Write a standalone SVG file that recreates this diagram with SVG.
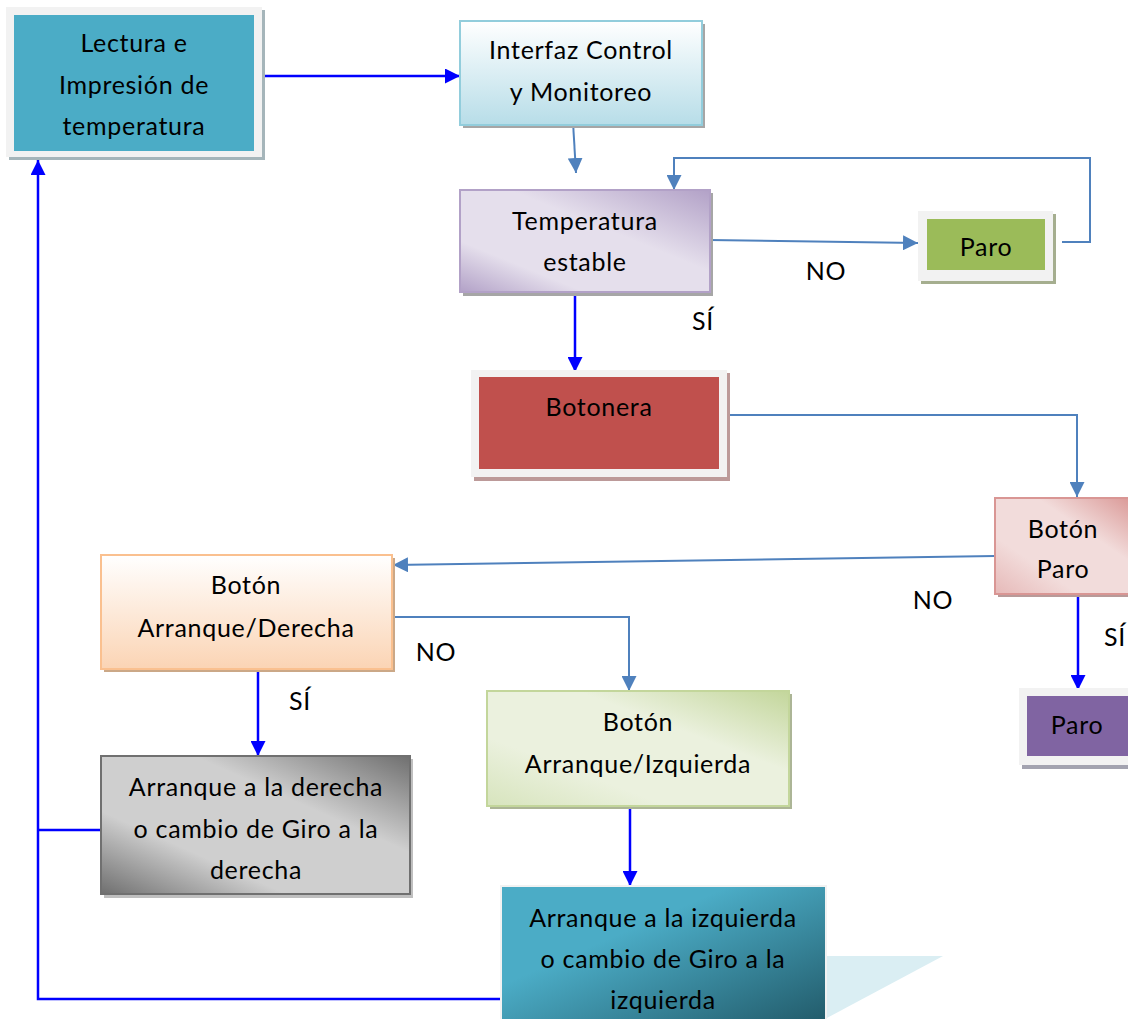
<svg xmlns="http://www.w3.org/2000/svg" width="1128" height="1019" viewBox="0 0 1128 1019">
<style>
text{font-family:Lato,"Open Sans","Liberation Sans",sans-serif;font-size:25px;letter-spacing:0.7px;fill:#000;text-anchor:middle}
.cb{fill:none;stroke:#0000FF;stroke-width:2.5}
.cs{fill:none;stroke:#4F81BD;stroke-width:2}
</style>
<defs>
<marker id="ab" viewBox="0 0 10 10" refX="10" refY="5" markerWidth="6" markerHeight="6" markerUnits="strokeWidth" orient="auto"><path d="M0,0L10,5L0,10z" fill="#0000FF"/></marker>
<marker id="as" viewBox="0 0 10 10" refX="10" refY="5" markerWidth="7.5" markerHeight="7.5" markerUnits="strokeWidth" orient="auto"><path d="M0,0L10,5L0,10z" fill="#4F81BD"/></marker>
<linearGradient id="gBlue" x1="0" y1="0" x2="0" y2="1"><stop offset="0" stop-color="#FFFFFF"/><stop offset="1" stop-color="#B7DDE8"/></linearGradient>
<linearGradient id="gPurple" x1="0" y1="1" x2="1" y2="0"><stop offset="0" stop-color="#B2A1C7"/><stop offset="0.25" stop-color="#E5DFEC"/><stop offset="0.6" stop-color="#E5DFEC"/><stop offset="1" stop-color="#B2A1C7"/></linearGradient>
<linearGradient id="gPink" x1="0" y1="1" x2="1" y2="0"><stop offset="0" stop-color="#E6B9B8"/><stop offset="0.3" stop-color="#F2DCDB"/><stop offset="0.65" stop-color="#F2DCDB"/><stop offset="1" stop-color="#D99694"/></linearGradient>
<linearGradient id="gOrange" x1="0" y1="0" x2="0" y2="1"><stop offset="0" stop-color="#FFFFFF"/><stop offset="1" stop-color="#FBD4B4"/></linearGradient>
<linearGradient id="gGreen" x1="0" y1="1" x2="1" y2="0"><stop offset="0" stop-color="#D7E4BD"/><stop offset="0.3" stop-color="#EBF1DE"/><stop offset="0.65" stop-color="#EBF1DE"/><stop offset="1" stop-color="#C3D69B"/></linearGradient>
<linearGradient id="gGrey" x1="0" y1="1" x2="1" y2="0"><stop offset="0" stop-color="#6F6F6F"/><stop offset="0.3" stop-color="#CFCFCF"/><stop offset="0.65" stop-color="#CFCFCF"/><stop offset="1" stop-color="#6F6F6F"/></linearGradient>
<linearGradient id="gTeal" x1="0" y1="0" x2="1" y2="1"><stop offset="0" stop-color="#4BACC6"/><stop offset="0.35" stop-color="#4BACC6"/><stop offset="1" stop-color="#215968"/></linearGradient>
</defs>

<g id="connectors">
<path class="cb" d="M258,76H460" marker-end="url(#ab)"/>
<path class="cs" d="M573,122L576,173" marker-end="url(#as)"/>
<path class="cs" d="M1062,242H1090V158H674V190" marker-end="url(#as)"/>
<path class="cs" d="M709,240L918,243" marker-end="url(#as)"/>
<path class="cb" d="M575,290V372" marker-end="url(#ab)"/>
<path class="cs" d="M723,415H1077V497" marker-end="url(#as)"/>
<path class="cs" d="M995,556L393,565" marker-end="url(#as)"/>
<path class="cb" d="M1078,594V690" marker-end="url(#ab)"/>
<path class="cs" d="M392,617H629V691" marker-end="url(#as)"/>
<path class="cb" d="M258,672V756" marker-end="url(#ab)"/>
<path class="cb" d="M630,806V886" marker-end="url(#ab)"/>
<path class="cb" d="M502,999H38V160" marker-end="url(#ab)"/>
<path class="cb" d="M101,830H38"/>
<text x="826" y="280">NO</text>
<text x="703" y="330">SÍ</text>
<text x="933" y="609">NO</text>
<text x="1104" y="646" style="text-anchor:start">SÍ</text>
<text x="436" y="661">NO</text>
<text x="300" y="710">SÍ</text>
</g>

<g id="n1">
<rect x="9" y="10" width="256" height="150" fill="#A5B5BA"/>
<rect x="6" y="7" width="256" height="150" fill="#F2F2F2"/>
<rect x="14" y="15" width="240" height="136" fill="#4BACC6"/>
<text x="134" y="52">Lectura e</text>
<text x="134" y="94">Impresión de</text>
<text x="134" y="135">temperatura</text>
</g>

<g id="n2">
<rect x="463" y="24" width="242" height="104" fill="#A6A6A6"/>
<rect x="460" y="21" width="242" height="104" fill="url(#gBlue)" stroke="#92CDDC" stroke-width="2"/>
<text x="581" y="59">Interfaz Control</text>
<text x="581" y="101">y Monitoreo</text>
</g>

<g id="n3">
<rect x="463" y="193" width="250" height="103" fill="#A6A6A6"/>
<rect x="460" y="190" width="250" height="102" fill="url(#gPurple)" stroke="#B2A1C7" stroke-width="2"/>
<text x="585" y="230">Temperatura</text>
<text x="585" y="271">estable</text>
</g>

<g id="n4">
<rect x="921" y="214" width="135" height="70" fill="#A5AE8F"/>
<rect x="918" y="211" width="135" height="70" fill="#F2F2F2"/>
<rect x="927" y="219" width="118" height="51" fill="#9BBB59"/>
<text x="986" y="256">Paro</text>
</g>

<g id="n5">
<rect x="474" y="373" width="256" height="108" fill="#BC9A99"/>
<rect x="471" y="370" width="256" height="107" fill="#F2F2F2"/>
<rect x="479" y="377" width="240" height="92" fill="#C0504D"/>
<text x="599" y="416">Botonera</text>
</g>

<g id="n6">
<rect x="998" y="501" width="140" height="96" fill="#B89A99"/>
<rect x="995" y="498" width="140" height="96" fill="url(#gPink)" stroke="#D99694" stroke-width="2"/>
<text x="1063" y="538">Botón</text>
<text x="1063" y="578">Paro</text>
</g>

<g id="n7">
<rect x="1022" y="691" width="120" height="78" fill="#A3A3B0"/>
<rect x="1019" y="688" width="120" height="77" fill="#F2F2F2"/>
<rect x="1027" y="696" width="110" height="60" fill="#8064A2"/>
<text x="1077" y="734">Paro</text>
</g>

<g id="n8">
<rect x="104" y="558" width="291" height="114" fill="#CBA887"/>
<rect x="101" y="555" width="291" height="114" fill="url(#gOrange)" stroke="#FAC08F" stroke-width="2"/>
<text x="246" y="594">Botón</text>
<text x="246" y="637">Arranque/Derecha</text>
</g>

<g id="n9">
<rect x="490" y="694" width="302" height="115" fill="#ACB596"/>
<rect x="487" y="691" width="302" height="115" fill="url(#gGreen)" stroke="#C3D69B" stroke-width="2"/>
<text x="638" y="731">Botón</text>
<text x="638" y="773">Arranque/Izquierda</text>
</g>

<g id="n10">
<rect x="104" y="759" width="309" height="139" fill="#BFBFBF"/>
<rect x="101" y="756" width="309" height="138" fill="url(#gGrey)" stroke="#707070" stroke-width="2"/>
<text x="256" y="796">Arranque a la derecha</text>
<text x="256" y="838">o cambio de Giro a la</text>
<text x="256" y="879">derecha</text>
</g>

<g id="n11">
<path d="M825,956H943L825,1019Z" fill="#DAEEF3"/>
<rect x="500" y="885" width="327" height="140" fill="#F2F2F2"/>
<rect x="502" y="887" width="323" height="140" fill="url(#gTeal)"/>
<text x="663" y="927">Arranque a la izquierda</text>
<text x="663" y="968">o cambio de Giro a la</text>
<text x="663" y="1009">izquierda</text>
</g>
</svg>
